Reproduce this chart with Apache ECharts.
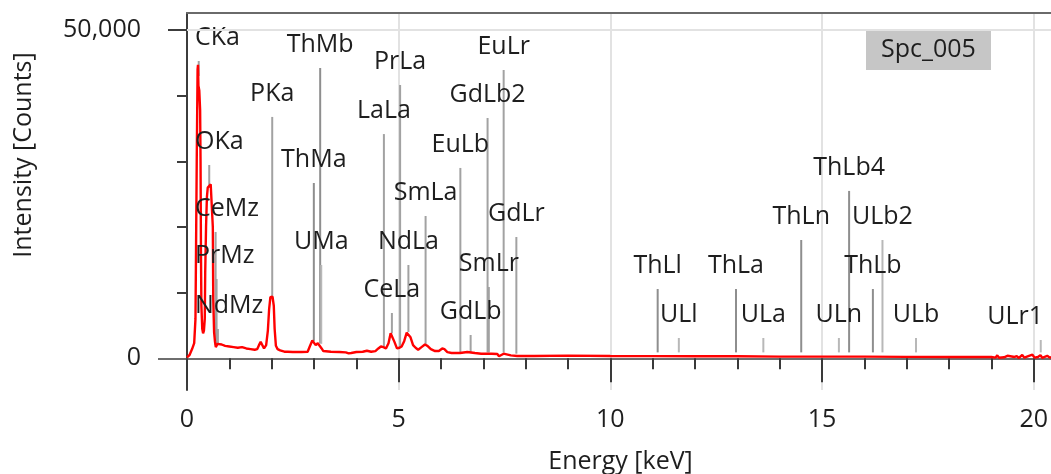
<!DOCTYPE html>
<html><head><meta charset="utf-8">
<script src="https://cdn.jsdelivr.net/npm/echarts@6/dist/echarts.min.js"></script>
<style>html,body{margin:0;padding:0;background:#fff}#c{width:1051px;height:474px}</style>
</head><body><div id="c"></div>
<script>
// ---- spectrum (energy keV, counts) ----
const specEnergy = [0.00,0.06,0.12,0.17,0.20,0.21,0.23,0.25,0.26,0.27,0.29,0.31,0.32,0.33,0.34,0.36,0.38,0.40,0.42,0.43,0.45,0.47,0.49,0.53,0.56,0.59,0.61,0.62,0.64,0.66,0.68,0.72,0.76,0.82,0.90,1.00,1.10,1.20,1.30,1.40,1.50,1.60,1.66,1.70,1.74,1.78,1.82,1.87,1.91,1.94,1.97,2.02,2.05,2.07,2.10,2.14,2.20,2.30,2.34,2.38,2.50,2.70,2.85,2.90,2.96,3.00,3.04,3.09,3.13,3.18,3.22,3.40,3.60,3.75,3.82,3.88,4.00,4.15,4.25,4.35,4.45,4.52,4.58,4.64,4.70,4.76,4.81,4.85,4.90,4.96,5.02,5.07,5.13,5.19,5.23,5.28,5.34,5.40,5.46,5.54,5.62,5.68,5.76,5.86,5.95,6.03,6.08,6.15,6.25,6.45,6.62,6.80,6.95,7.20,7.33,7.37,7.41,7.48,7.55,7.65,7.80,8.20,9.00,10.00,11.00,12.00,13.00,14.00,15.00,16.00,17.00,18.00,19.00,19.10,19.14,19.18,19.30,19.38,19.42,19.55,19.60,19.65,19.73,19.78,19.89,19.93,19.97,20.02,20.10,20.16,20.20,20.32,20.38,20.48];
const specCounts = [150,500,1400,2300,6000,13800,30000,44000,44700,41500,40800,37800,30000,16000,8000,4500,3800,4200,6000,13000,20000,24500,26000,26000,26500,26500,20000,9000,4000,2600,1700,2200,2000,2100,1900,1800,1700,1600,1700,1500,1400,1300,1400,2000,2500,2300,1500,2000,4200,7500,9300,9400,8000,4500,1900,1400,1200,1000,1300,1000,950,950,1000,1800,2700,2500,2000,2300,2200,1500,1100,1000,950,900,750,800,950,1000,1150,1000,1100,1500,1800,1700,1500,2300,3800,3600,2500,1500,1600,1800,2600,3900,4000,3200,2000,1600,1300,1700,2100,1900,1400,1100,1100,1500,1400,950,800,800,950,800,700,700,650,300,350,700,600,450,350,350,400,350,330,300,300,250,250,250,220,200,200,100,450,80,150,380,80,200,320,50,500,100,380,80,550,100,200,480,80,380,100,250];

// ---- element line markers ----
const markerNames  = ['CKa','OKa','CeMz','PrMz','NdMz','PKa','ThMa','ThMb','UMa','LaLa','CeLa','PrLa','NdLa','SmLa','EuLb','GdLb','SmLr','GdLb2','EuLr','GdLr','ThLl','ULl','ThLa','ULa','ThLn','ULn','ThLb4','ThLb','ULb2','ULb','ULr1'];
const markerEnergy = [0.277,0.525,0.676,0.699,0.730,2.013,2.996,3.146,3.171,4.651,4.840,5.034,5.230,5.636,6.457,6.700,7.130,7.100,7.480,7.780,11.118,11.618,12.968,13.614,14.509,15.399,15.640,16.202,16.428,17.220,20.167];
const markerTop    = [45280,29440,19240,12080,4460,36760,26700,44210,14210,34150,6900,41620,14210,21670,28990,3550,10860,36600,43910,18470,10550,3090,10550,3090,18020,3090,25490,10550,18020,3090,2790];
const markerBase   = [43000,26000,2000,2000,2000,9000,2600,2300,2200,1800,3800,1700,4000,2100,900,950,900,900,900,700,900,900,900,900,900,900,900,900,900,900,900];

// ---- axes ----
const xMin = 0, xMax = 20.48, xStep = 5;
const yMin = -4830, yMax = 52590;
const yMinorTicks = [10000,20000,30000,40000];
const yTopTick = [50000];
const yZeroTick = [0];
const yLabelValues = [0, 50000];
const sampleName = 'Spc_005';
const xTitle = 'Energy [keV]';
const yTitle = 'Intensity [Counts]';

const FONT = '"Open Sans", "Noto Sans", sans-serif';
const FS = 25;
const TXT = '#1e1e1e';

const ctx = document.createElement('canvas').getContext('2d');
ctx.font = FS + 'px ' + FONT;
function textW(s) { return ctx.measureText(s).width; }

function markerColor(name) {
  if (name.indexOf('Th') === 0) return '#8e8e8e';
  if (name.indexOf('U') === 0) return '#b8b8b8';
  return '#a2a2a2';
}

const markerData = markerEnergy.map((e, i) => [e, markerBase[i], markerTop[i]]);
const specData = specEnergy.map((e, i) => [e, specCounts[i]]);

const chart = echarts.init(document.getElementById('c'), null, {renderer: 'canvas'});

const yCommon = {type: 'value', min: yMin, max: yMax, position: 'left', splitLine: {show: false}};

chart.setOption({
  animation: false,
  backgroundColor: '#fff',
  grid: {left: 187, right: -3, top: 13, bottom: 84, containLabel: false, outerBoundsMode: 'none'},
  xAxis: [{
    type: 'value', min: xMin, max: xMax, interval: xStep,
    axisLine: {show: true, onZero: true, onZeroAxisIndex: 0, lineStyle: {color: '#6e6e6e', width: 2}},
    axisTick: {show: true, length: 24, lineStyle: {color: '#3a3a3a', width: 2}},
    minorTick: {show: true, splitNumber: 5, length: 11, lineStyle: {color: '#3a3a3a', width: 2}},
    axisLabel: {margin: 17, fontSize: FS, fontFamily: FONT, color: TXT},
    splitLine: {show: true, lineStyle: {color: '#e2e2e2', width: 2}},
    name: xTitle, nameLocation: 'middle', nameGap: 59,
    nameTextStyle: {fontSize: FS, fontFamily: FONT, color: TXT}
  }, {
    type: 'value', min: xMin, max: xMax, position: 'top',
    axisLine: {show: true, onZero: false, lineStyle: {color: '#6a6a6a', width: 2}},
    axisTick: {show: false}, axisLabel: {show: false}, splitLine: {show: false}
  }],
  yAxis: [Object.assign({}, yCommon, {
    axisLine: {show: true, onZero: false, lineStyle: {color: '#3c3c3c', width: 2}},
    axisTick: {show: true, customValues: yMinorTicks, length: 10, lineStyle: {color: '#3c3c3c', width: 2}},
    axisLabel: {show: true, customValues: yLabelValues, margin: 46, fontSize: FS, fontFamily: FONT, color: TXT,
      formatter: v => Number(v).toLocaleString('en-US')}
  }), Object.assign({}, yCommon, {
    axisLine: {show: false, onZero: false},
    axisTick: {show: true, customValues: yTopTick, length: 19, lineStyle: {color: '#3c3c3c', width: 2}},
    axisLabel: {show: false}
  }), Object.assign({}, yCommon, {
    axisLine: {show: false, onZero: false},
    axisTick: {show: true, customValues: yZeroTick, length: 29, lineStyle: {color: '#6e6e6e', width: 2}},
    axisLabel: {show: false}
  })],
  graphic: [{
    type: 'text', x: 24, y: 155, rotation: Math.PI / 2,
    style: {text: yTitle, font: FS + 'px ' + FONT, fill: TXT, align: 'center', verticalAlign: 'middle'}
  }, {
    type: 'group', right: 60, top: 30,
    children: [
      {type: 'rect', shape: {x: 0, y: 0, width: 125, height: 40}, style: {fill: '#c6c6c6'}},
      {type: 'text', x: 62.5, y: 20, style: {text: sampleName, font: FS + 'px ' + FONT, fill: TXT, align: 'center', verticalAlign: 'middle'}}
    ]
  }],
  series: [{
    type: 'line', data: [], z: 0, silent: true,
    markLine: {silent: true, symbol: 'none', label: {show: false},
      lineStyle: {color: '#e2e2e2', width: 2, type: 'solid'}, data: [{yAxis: 50000}]}
  }, {
    type: 'custom', z: 1, silent: true, data: markerData,
    renderItem: function (params, api) {
      const p0 = api.coord([api.value(0), api.value(1)]);
      const p1 = api.coord([api.value(0), api.value(2)]);
      return {type: 'line', shape: {x1: p0[0], y1: p0[1], x2: p1[0], y2: p1[1]},
        style: {stroke: markerColor(markerNames[params.dataIndex]), lineWidth: 2}};
    }
  }, {
    type: 'line', z: 2, data: specData, showSymbol: false, symbol: 'none', silent: true,
    lineStyle: {color: '#ff0000', width: 2.4}
  }, {
    type: 'custom', z: 3, silent: true, clip: false, data: markerData,
    renderItem: function (params, api) {
      const name = markerNames[params.dataIndex];
      const p = api.coord([api.value(0), api.value(2)]);
      const w = textW(name);
      const minLeft = params.coordSys.x + 8;
      const maxRight = api.getWidth() - 8;
      let cx = p[0];
      if (cx - w / 2 < minLeft) cx = minLeft + w / 2;
      if (cx + w / 2 > maxRight) cx = maxRight - w / 2;
      return {type: 'text', style: {text: name, x: cx, y: p[1] - 23, align: 'center', verticalAlign: 'middle',
        font: FS + 'px ' + FONT, fill: TXT}};
    }
  }]
});
</script>
</body></html>
